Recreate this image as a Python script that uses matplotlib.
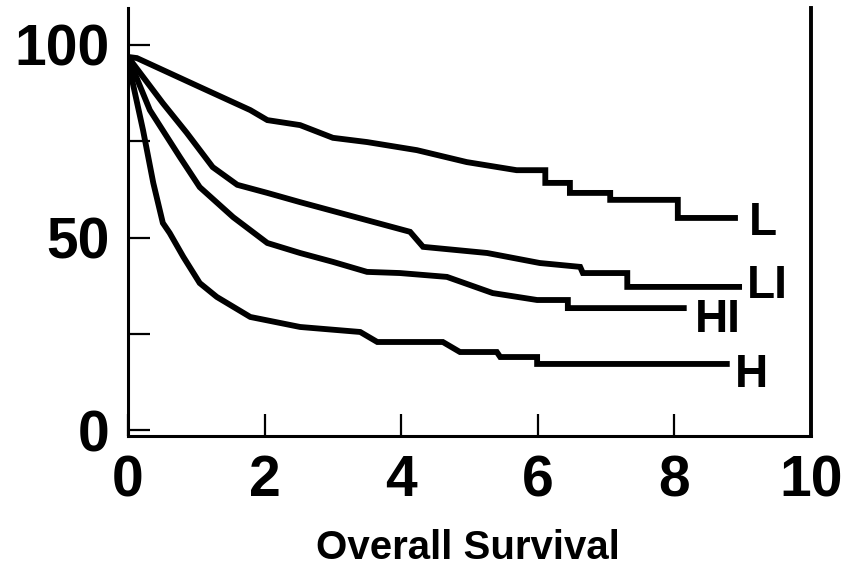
"""
Overall survival curves (L, LI, HI, H) redrawn from a scanned figure.
Saves out.png.
"""

import matplotlib
matplotlib.use("Agg")
import matplotlib.pyplot as plt
from matplotlib.ticker import FixedLocator

plt.rcParams["font.family"] = ["Liberation Sans", "DejaVu Sans"]
plt.rcParams["font.weight"] = "bold"

# survival curves, years vs % surviving (steps drawn as repeated x)
L_X = [0, 0.13, 1.05, 1.79, 2.04, 2.52, 3.0, 3.5, 4.23, 4.96, 5.69, 6.11, 6.11,
       6.47, 6.47, 7.06, 7.06, 8.05, 8.05, 8.93]
L_Y = [96.9, 96.6, 89.1, 83.1, 80.5, 79.2, 75.9, 74.8, 72.7, 69.6, 67.5, 67.5, 64.2,
       64.2, 61.6, 61.6, 59.8, 59.8, 55.1, 55.1]

LI_X = [0, 0.51, 0.86, 1.24, 1.60, 2.04, 2.52, 4.13, 4.32, 5.26, 6.03, 6.62, 6.66,
        7.31, 7.31, 8.99]
LI_Y = [96.9, 84.9, 77.2, 68.3, 63.7, 61.6, 59.2, 51.5, 47.6, 46.0, 43.4, 42.4, 40.8,
        40.8, 37.2, 37.2]

HI_X = [0, 0.32, 0.76, 1.05, 1.54, 2.04, 2.52, 3.0, 3.5, 3.98, 4.67, 5.34, 5.99,
        6.44, 6.44, 8.18]
HI_Y = [96.9, 83.1, 70.9, 63.1, 55.3, 48.6, 46.0, 43.7, 41.1, 40.8, 39.8, 35.6, 33.8,
        33.8, 31.7, 31.7]

H_X = [0, 0.07, 0.22, 0.37, 0.51, 0.61, 0.81, 1.05, 1.30, 1.79, 2.52, 3.40, 3.65,
       4.61, 4.86, 5.40, 5.45, 5.99, 5.99, 8.81]
H_Y = [96.9, 90.1, 77.9, 64.2, 53.8, 51.2, 45.0, 38.2, 34.6, 29.4, 26.8, 25.5, 22.9,
       22.9, 20.3, 20.3, 19.0, 19.0, 17.2, 17.2]

CURVES = [(L_X, L_Y), (LI_X, LI_Y), (HI_X, HI_Y), (H_X, H_Y)]

# curve labels and where they sit (left edge, baseline)
LABELS = ["L", "LI", "HI", "H"]
LABEL_X = [9.09, 9.06, 8.30, 8.89]
LABEL_Y = [50.7, 34.3, 25.5, 11.2]

X_TICKS = [0, 2, 4, 6, 8, 10]
Y_TICKS = [0, 50, 100]
Y_MINOR = [25, 75]


def main():
    fig = plt.figure(figsize=(8.53, 5.76), dpi=100)
    ax = fig.add_axes([128 / 853, 140 / 576, (811 - 128) / 853, (436 - 8) / 576])

    for xs, ys in CURVES:
        ax.plot(xs, ys, color="black", linewidth=4.2,
                solid_joinstyle="miter", solid_capstyle="butt")

    for text, x, y in zip(LABELS, LABEL_X, LABEL_Y):
        ax.text(x, y, text, fontsize=33, ha="left", va="baseline")

    ax.set_xlim(0, 10)
    ax.set_ylim(-1.5, 109.6)

    ax.spines["top"].set_visible(False)
    for side in ["left", "bottom"]:
        ax.spines[side].set_linewidth(2.2)
    ax.spines["right"].set_linewidth(2.8)

    ax.set_xticks(X_TICKS)
    ax.set_xticklabels([str(t) for t in X_TICKS])
    ax.set_yticks(Y_TICKS)
    ax.set_yticklabels([str(t) for t in Y_TICKS])
    ax.yaxis.set_minor_locator(FixedLocator(Y_MINOR))

    ax.tick_params(axis="both", which="both", direction="in", length=16, width=1.6)
    ax.tick_params(axis="x", labelsize=41, pad=13)
    ax.tick_params(axis="y", labelsize=41, pad=13)
    ax.tick_params(right=False, top=False, which="both")

    fig.text(468 / 853, 1 - 548 / 576, "Overall Survival", fontsize=29,
             ha="center", va="center")

    fig.savefig("out.png", dpi=100)
    plt.close(fig)


if __name__ == "__main__":
    main()
